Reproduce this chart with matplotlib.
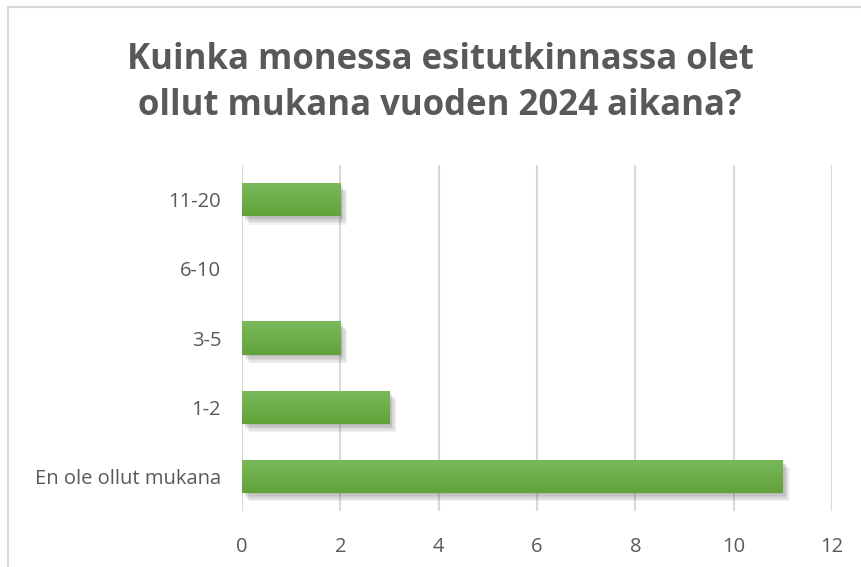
import numpy as np
import matplotlib.pyplot as plt
import matplotlib.patheffects as pe
from matplotlib.patches import Rectangle
from matplotlib.colors import LinearSegmentedColormap

categories = ["En ole ollut mukana", "1-2", "3-5", "6-10", "11-20"]
counts = [11, 3, 2, 0, 2]
xticks = [0, 2, 4, 6, 8, 10, 12]
title = "Kuinka monessa esitutkinnassa olet\nollut mukana vuoden 2024 aikana?"

text_gray = "#595959"
plt.rcParams['font.family'] = ['Open Sans', 'DejaVu Sans']

fig = plt.figure(figsize=(8.61, 5.67), dpi=100)
ax = fig.add_axes([242/861, 56/567, 590/861, 346/567])

# chart frame (only left/top visible in the reference)
fig.patches.append(Rectangle((8/861, -0.1), 1.2, (567-7)/567 + 0.1, transform=fig.transFigure,
                             fill=False, edgecolor="#d9d9d9", linewidth=1.5))

# soft shadow: a few stacked faint offsets
shadow = [pe.SimplePatchShadow(offset=(dx, -dy), shadow_rgbFace="#555555", alpha=0.08)
          for dx, dy in [(1, 1), (2, 2), (2, 3), (3, 4), (4, 5), (5, 6)]]

ypos = np.arange(len(categories))
bars = ax.barh(ypos, counts, height=0.48, color="#6aac44", zorder=3,
               path_effects=shadow + [pe.Normal()])

# vertical gradient on each bar
grad = np.linspace(0, 1, 64).reshape(-1, 1)
cmap = LinearSegmentedColormap.from_list("g", ["#62a23a", "#7ab95a"])
for b in bars:
    if b.get_width() <= 0:
        continue
    x0, y0 = b.get_x(), b.get_y()
    im = ax.imshow(grad, cmap=cmap, aspect="auto", origin="lower",
                   extent=[x0, x0 + b.get_width(), y0, y0 + b.get_height()], zorder=4)
    im.set_clip_path(b)

ax.set_xlim(0, 12)
ax.set_ylim(-0.5, len(categories) - 0.5)
ax.set_xticks(xticks)
ax.set_yticks(ypos)
ax.set_yticklabels(categories)
ax.grid(axis="x", color="#d9d9d9", linewidth=1.5, zorder=0)
ax.set_axisbelow(True)
for s in ax.spines.values():
    s.set_visible(False)
ax.tick_params(length=0, labelsize=14.5, labelcolor=text_gray)
ax.tick_params(axis="x", pad=19)
ax.tick_params(axis="y", pad=15)

fig.text(440/861, 1 - 83/567, title, ha="center", va="center", fontsize=25,
         fontweight="bold", color=text_gray, linespacing=1.38)

fig.savefig("out.png", dpi=100)
